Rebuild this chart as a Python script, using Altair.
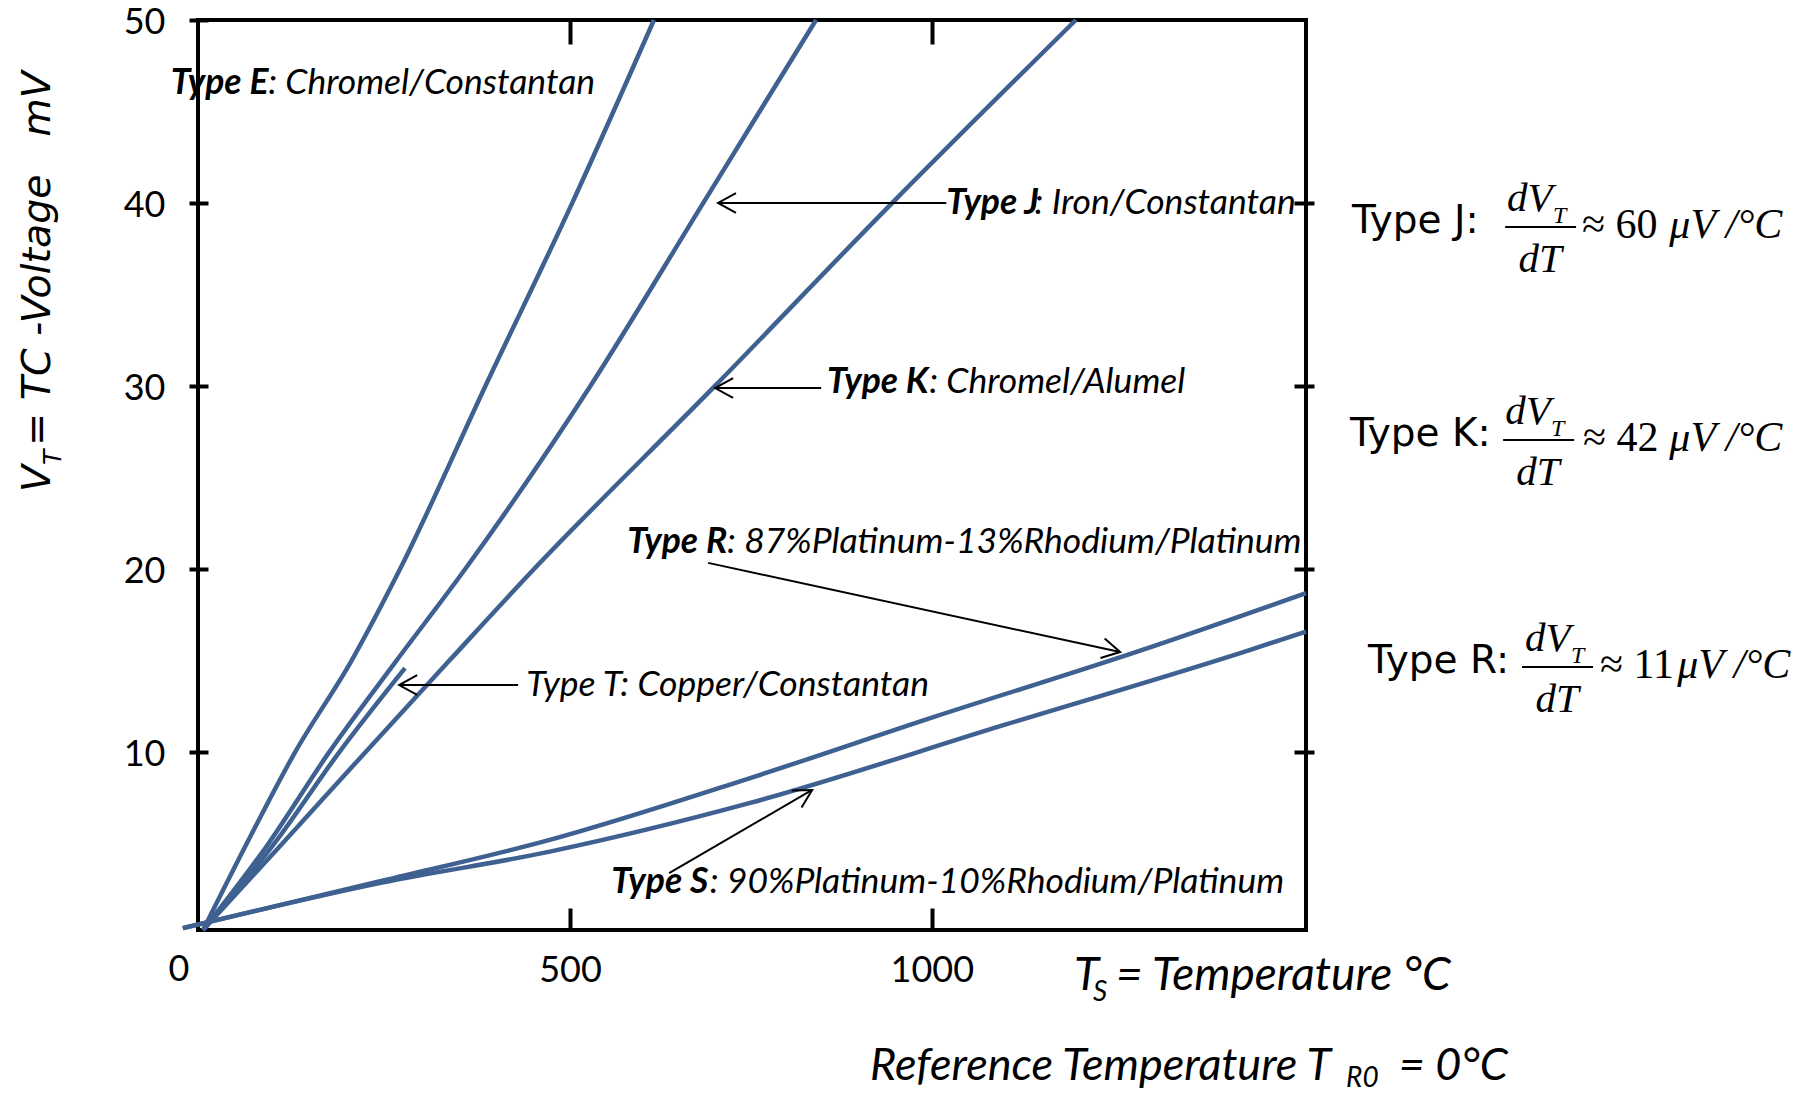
import math
import altair as alt
import pandas as pd

BLUE = "#3F6191"

# ---------------- curve data (°C, mV) ----------------
E_temp = [-7, 53, 120, 198, 265, 383, 503, 616]
E_mv = [0.3, 5, 10, 15, 20, 30, 40, 50]
J_temp = [-7, 83, 167, 260, 355, 528, 684, 840]
J_mv = [0.3, 5, 10, 15, 20, 30, 40, 50]
K_temp = [-7, 102, 217, 333, 450, 700, 945, 1199]
K_mv = [0.3, 5, 10, 15, 20, 30, 40, 50]
T_temp = [-7, 91, 181, 272]
T_mv = [0.3, 5, 10, 14.6]
R_temp = [-35, 242, 472, 749, 1000, 1291, 1517]
R_mv = [0.4, 3.0, 5.22, 8.6, 11.9, 15.6, 18.7]
S_temp = [-35, 242, 472, 749, 1100, 1440, 1517]
S_mv = [0.4, 2.9, 4.58, 7.24, 11.5, 15.6, 16.6]

x_ticks = [500, 1000]
y_ticks = [10, 20, 30, 40, 50]
y_ticks_right = [10, 20, 30, 40]

X_DOMAIN = [-14, 1517]
Y_DOMAIN = [0.3, 50]
W, H = 1108, 910

# ---------------- annotation texts (data units) ----------------
bold_text = ["Type E", "Type J", "Type K", "Type R", "Type S"]
bold_x = [-51.7, 1020, 855.3, 579, 557]
bold_y = [46.56, 40.01, 30.23, 21.49, 2.92]

ital_text = [": Chromel/Constantan", ": Iron/Constantan", ": Chromel/Alumel",
             ": 87%Platinum-13%Rhodium/Platinum", ": 90%Platinum-10%Rhodium/Platinum",
             "Type T: Copper/Constantan"]
ital_x = [82.9, 1142, 996.3, 717, 693, 439.4]
ital_y = [46.56, 40.01, 30.23, 21.49, 2.92, 13.68]

arrow_tail_t = [1020, 847, 428.3, 690.9, 637.0]
arrow_tail_v = [40.01, 29.90, 13.68, 20.35, 3.41]
arrow_tip_t = [704.5, 700.5, 263.9, 1260.2, 834.6]
arrow_tip_v = [40.01, 29.90, 13.68, 15.48, 7.95]

# right-hand formulas
f_type_text = ["Type J:", "Type K:", "Type R:"]
f_type_x = [1580.6, 1577.8, 1602.7]
f_type_y = [38.37, 26.74, 14.34]
f_num_x = [1794.9, 1792.2, 1819.7]
f_num_y = [39.57, 27.94, 15.54]
f_sub_x = [1858.4, 1855.6, 1883.3]
f_sub_y = [38.92, 27.28, 14.88]
f_bar_x = [1792.2, 1789.4, 1815.5]
f_bar_x2 = [1890.2, 1887.5, 1913.6]
f_bar_y = [38.70, 27.06, 14.67]
f_den_x = [1840.4, 1837.6, 1864.0]
f_den_y = [36.24, 24.61, 12.21]
f_val_text = ["≈ 60", "≈ 42", "≈ 11"]
f_val_x = [1898.4, 1899.8, 1923.3]
f_val_y = [38.10, 26.46, 14.06]
f_unit_x = [2019.0, 2019.0, 2030.0]

# axis titles
xt_text = ["T", "S", "= Temperature °C", "Reference Temperature T", "R0", "= 0°C"]
xt_x = [1196.3, 1222.6, 1254.5, 914.7, 1572.4, 1645.0]
xt_y = [-2.98, -3.58, -2.98, -7.90, -8.30, -7.90]
xt_size = [46, 28, 46, 45, 28, 45]

yt_text = ["V", "T", "\u00a0=\u00a0TC\u00a0-Voltage\u00a0\u00a0\u00a0mV"]
yt_x = [-218.5, -203.3, -218.5]
yt_y = [24.22, 25.70, 26.74]
yt_size = [39.5, 25, 39.5]

zero_label = ["0"]
zero_x = [-40.2]
zero_y = [-1.88]

# ---------------- build tables ----------------
rows = []
for name, ts, vs in [("E", E_temp, E_mv), ("J", J_temp, J_mv), ("K", K_temp, K_mv),
                     ("T", T_temp, T_mv), ("R", R_temp, R_mv), ("S", S_temp, S_mv)]:
    for i, (t, v) in enumerate(zip(ts, vs)):
        rows.append({"type": name, "i": i, "temp": t, "mv": v})
curves_df = pd.DataFrame(rows)

px_per_t = W / (X_DOMAIN[1] - X_DOMAIN[0])
px_per_v = H / (Y_DOMAIN[1] - Y_DOMAIN[0])
arrows = []
for a, b, c, d in zip(arrow_tail_t, arrow_tail_v, arrow_tip_t, arrow_tip_v):
    ang = math.degrees(math.atan2(-(d - b) * px_per_v, (c - a) * px_per_t)) % 360
    arrows.append({"t0": a, "v0": b, "t1": c, "v1": d, "ang": ang})
arrows_df = pd.DataFrame(arrows)

xs = alt.Scale(domain=X_DOMAIN, nice=False, zero=False)
ys = alt.Scale(domain=Y_DOMAIN, nice=False, zero=False)

NOX = alt.X("x:Q", scale=xs, axis=None)
NOY = alt.Y("y:Q", scale=ys, axis=None)

curves = alt.Chart(curves_df).mark_line(
    strokeWidth=4.5, color=BLUE, interpolate="monotone"
).encode(
    x=alt.X("temp:Q", scale=xs, axis=alt.Axis(
        orient="bottom", values=x_ticks, format="d", offset=-22, tickSize=22,
        tickWidth=4, tickColor="black", domain=False, grid=False, labelFont="Lato",
        labelFontSize=36, labelColor="black", labelPadding=40,
        labelBaseline="middle", title=None)),
    y=alt.Y("mv:Q", scale=ys, axis=alt.Axis(
        orient="left", values=y_ticks, format="d", offset=-10, tickSize=19,
        tickWidth=4, tickColor="black", domain=False, grid=False, labelFont="Lato",
        labelFontSize=36, labelColor="black", labelPadding=24, labelOffset=2,
        title=None)),
    detail="type:N",
    order="i:Q",
)

shafts = alt.Chart(arrows_df).mark_rule(color="black", strokeWidth=2).encode(
    x=alt.X("t0:Q", scale=xs, axis=alt.Axis(
        orient="top", values=x_ticks, offset=-24, tickSize=24, tickWidth=4,
        tickColor="black", domain=False, grid=False, labels=False, title=None)),
    y=alt.Y("v0:Q", scale=ys, axis=alt.Axis(
        orient="right", values=y_ticks_right, offset=-12, tickSize=20, tickWidth=4,
        tickColor="black", domain=False, grid=False, labels=False, title=None)),
    x2="t1:Q",
    y2="v1:Q",
)

heads = alt.Chart(arrows_df).mark_point(
    shape="M -1 -0.55 L 0 0 L -1 0.55", filled=False, color="black",
    strokeWidth=2, size=1296, opacity=1
).encode(
    x=alt.X("t1:Q", scale=xs, axis=None),
    y=alt.Y("v1:Q", scale=ys, axis=None),
    angle=alt.Angle("ang:Q", scale=None),
)


def text_layer(texts, xv, yv, sizes=None, **mark):
    df = pd.DataFrame({"x": xv, "y": yv, "label": texts})
    enc = dict(x=NOX, y=NOY, text="label:N")
    if sizes is not None:
        df["fs"] = sizes
        enc["size"] = alt.Size("fs:Q", scale=None, legend=None)
    return alt.Chart(df).mark_text(color="black", **mark).encode(**enc)


bold_layer = text_layer(bold_text, bold_x, bold_y, font="Lato", fontSize=35.5,
                        fontStyle="italic", fontWeight="bold", align="left",
                        baseline="middle")
ital_layer = text_layer(ital_text, ital_x, ital_y, font="Lato", fontSize=35.5,
                        fontStyle="italic", align="left", baseline="middle")

f_type = text_layer(f_type_text, f_type_x, f_type_y, font="DejaVu Sans",
                    fontSize=39, align="left", baseline="alphabetic")
f_num = text_layer(["dV"] * 3, f_num_x, f_num_y, font="Liberation Serif",
                   fontSize=41, fontStyle="italic", align="left", baseline="alphabetic")
f_sub = text_layer(["T"] * 3, f_sub_x, f_sub_y, font="Liberation Serif",
                   fontSize=24, fontStyle="italic", align="left", baseline="alphabetic")
f_den = text_layer(["dT"] * 3, f_den_x, f_den_y, font="Liberation Serif",
                   fontSize=41, fontStyle="italic", align="center", baseline="alphabetic")
f_val = text_layer(f_val_text, f_val_x, f_val_y, font="Liberation Serif",
                   fontSize=42, align="left", baseline="alphabetic")
f_unit = text_layer(["μV /°C"] * 3, f_unit_x, f_val_y, font="Liberation Serif",
                    fontSize=42, fontStyle="italic", align="left", baseline="alphabetic")
f_bar = alt.Chart(pd.DataFrame({"x": f_bar_x, "x2": f_bar_x2, "y": f_bar_y})).mark_rule(
    color="black", strokeWidth=2
).encode(x=NOX, x2="x2:Q", y=NOY)

xt_layer = text_layer(xt_text, xt_x, xt_y, sizes=xt_size, font="Lato",
                      fontStyle="italic", align="left", baseline="alphabetic")
yt_layer = text_layer(yt_text, yt_x, yt_y, sizes=yt_size, font="DejaVu Sans",
                      fontStyle="italic", align="left", baseline="alphabetic", angle=270)
zero_layer = text_layer(zero_label, zero_x, zero_y, font="Lato", fontSize=36,
                        align="center", baseline="middle")

chart = alt.layer(
    curves, shafts, heads, bold_layer, ital_layer,
    f_type, f_num, f_sub, f_den, f_val, f_unit, f_bar,
    xt_layer, yt_layer, zero_layer,
).resolve_axis(
    x="independent", y="independent"
).properties(
    width=W, height=H,
    autosize=alt.AutoSizeParams(type="none"),
    padding={"left": 190, "top": 12, "right": 500, "bottom": 159},
    background="white",
).configure_view(stroke="black", strokeWidth=4)

chart.save("out.html", embed_options={"renderer": "svg", "actions": False})
